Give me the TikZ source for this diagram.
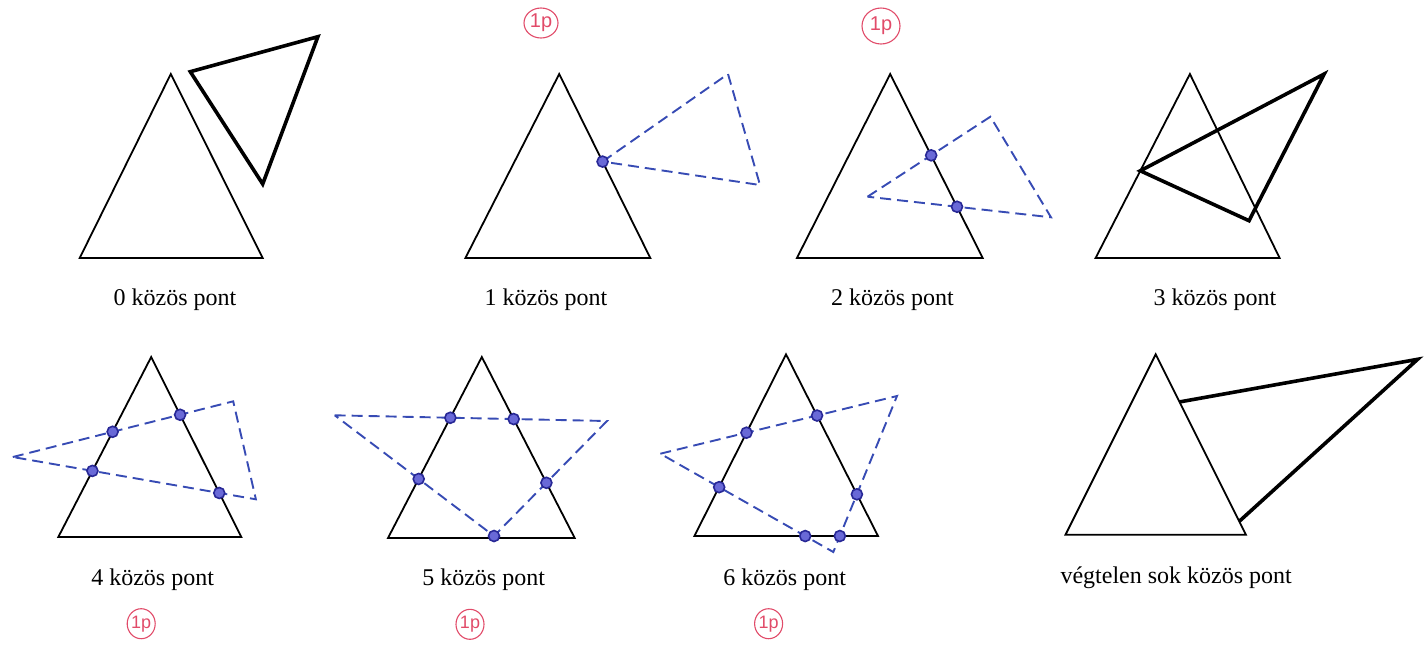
\documentclass[tikz,border=0pt]{standalone}
\usepackage{fontspec}
\setmainfont{Liberation Serif}
\setsansfont{Liberation Sans}
\usetikzlibrary{calc,shapes.geometric}
\definecolor{dashblue}{RGB}{55,75,180}
\definecolor{dotblue}{RGB}{105,105,215}
\definecolor{dotedge}{RGB}{40,40,150}
\definecolor{markred}{RGB}{225,75,105}
\begin{document}
\begin{tikzpicture}[x=0.5pt,y=-0.5pt,
  tri/.style={line width=0.9pt, line join=miter},
  thicktri/.style={line width=1.8pt, line join=miter},
  dtri/.style={draw=dashblue, line width=0.95pt, dash pattern=on 5.5pt off 3pt},
  pt/.style={circle, fill=dotblue, draw=dotedge, line width=0.8pt, inner sep=0pt, minimum size=5.5pt},
  lab/.style={font=\fontsize{12}{14}\selectfont, inner sep=0pt},
  redmark/.style={ellipse, draw=markred, text=markred, line width=0.55pt, inner sep=0pt,
    minimum width=14pt, minimum height=15pt, font=\sffamily\fontsize{9}{10}\selectfont}]
\useasboundingbox (0,0) rectangle (1428,644);

% ---------- panel 0 ----------
\coordinate (A0a) at (170.8,74);
\coordinate (A0b) at (79.7,258);
\coordinate (A0c) at (262.7,258);
\draw[tri] (A0a) -- (A0b) -- (A0c) -- cycle;
\coordinate (T0a) at (190.3,71.7);
\coordinate (T0b) at (317.9,36.7);
\coordinate (T0c) at (262.7,184);
\draw[thicktri] (T0a) -- (T0b) -- (T0c) -- cycle;
\node[lab] (L0) at (175,300) {0 közös pont};

% ---------- panel 1 ----------
\coordinate (A1a) at (559.2,74);
\coordinate (A1b) at (465.4,258);
\coordinate (A1c) at (650.3,258);
\draw[tri] (A1a) -- (A1b) -- (A1c) -- cycle;
\coordinate (D1a) at ($(A1a)!0.476!(A1c)$);
\coordinate (D1b) at (728,74);
\coordinate (D1c) at (760,185);
\draw[dtri] (D1a) -- (D1b) -- (D1c) -- cycle;
\node[pt] (P1a) at (D1a) {};
\node[lab] (L1) at (546,300) {1 közös pont};
\node[redmark, minimum width=17pt, minimum height=15pt, font=\sffamily\fontsize{10}{11}\selectfont] (M1) at (541,23) {\makebox[0pt]{1p}};

% ---------- panel 2 ----------
\coordinate (A2a) at (890.2,74);
\coordinate (A2b) at (796.9,258);
\coordinate (A2c) at (982.7,258);
\draw[tri] (A2a) -- (A2b) -- (A2c) -- cycle;
\coordinate (D2a) at (867.5,196.7);
\coordinate (D2b) at (990.4,116.7);
\coordinate (D2c) at (1051,217.3);
\draw[dtri] (D2a) -- (D2b) -- (D2c) -- cycle;
\node[pt] (P2a) at (intersection of A2a--A2c and D2a--D2b) {};
\node[pt] (P2b) at (intersection of A2a--A2c and D2a--D2c) {};
\node[lab] (L2) at (892.5,300) {2 közös pont};
\node[redmark, minimum width=19pt, minimum height=18pt, font=\sffamily\fontsize{10}{11}\selectfont] (M2) at (881,26) {\makebox[0pt]{1p}};

% ---------- panel 3 ----------
\coordinate (A3a) at (1189.9,74);
\coordinate (A3b) at (1095.6,258);
\coordinate (A3c) at (1279.6,258);
\draw[tri] (A3a) -- (A3b) -- (A3c) -- cycle;
\coordinate (T3a) at ($(A3b)!0.474!(A3a)$);
\coordinate (T3b) at (1324.2,74);
\coordinate (T3c) at (1249,220.7);
\draw[thicktri] (T3a) -- (T3b) -- (T3c) -- cycle;
\node[lab] (L3) at (1215,300) {3 közös pont};

% ---------- panel 4 ----------
\coordinate (A4a) at (151.2,357);
\coordinate (A4b) at (58.3,537);
\coordinate (A4c) at (241.3,537);
\draw[tri] (A4a) -- (A4b) -- (A4c) -- cycle;
\coordinate (D4a) at (12.8,457);
\coordinate (D4b) at (233.2,401.3);
\coordinate (D4c) at (255.9,499.3);
\draw[dtri] (D4a) -- (D4b) -- (D4c) -- cycle;
\node[pt] (P4a) at (intersection of A4a--A4b and D4a--D4b) {};
\node[pt] (P4b) at (intersection of A4a--A4c and D4a--D4b) {};
\node[pt] (P4c) at (intersection of A4a--A4b and D4a--D4c) {};
\node[pt] (P4d) at (intersection of A4a--A4c and D4a--D4c) {};
\node[lab] (L4) at (152.6,579.7) {4 közös pont};
\node[redmark] (M4) at (141.2,623.7) {\makebox[0pt]{1p}};

% ---------- panel 5 ----------
\coordinate (A5a) at (481.8,357);
\coordinate (A5b) at (388,538);
\coordinate (A5c) at (574.7,538);
\draw[tri] (A5a) -- (A5b) -- (A5c) -- cycle;
\coordinate (D5a) at (334.7,415.3);
\coordinate (D5b) at (607,421);
\coordinate (D5c) at (494,536);
\draw[dtri] (D5a) -- (D5b) -- (D5c) -- cycle;
\node[pt] (P5a) at (intersection of A5a--A5b and D5a--D5b) {};
\node[pt] (P5b) at (intersection of A5a--A5c and D5a--D5b) {};
\node[pt] (P5c) at (intersection of A5a--A5b and D5a--D5c) {};
\node[pt] (P5d) at (intersection of A5a--A5c and D5b--D5c) {};
\node[pt] (P5e) at (D5c) {};
\node[lab] (L5) at (483.6,580) {5 közös pont};
\node[redmark] (M5) at (470,624.3) {\makebox[0pt]{1p}};

% ---------- panel 6 ----------
\coordinate (A6a) at (786,354.3);
\coordinate (A6b) at (694.4,536);
\coordinate (A6c) at (878,536);
\draw[tri] (A6a) -- (A6b) -- (A6c) -- cycle;
\coordinate (D6a) at (660.3,453.7);
\coordinate (D6b) at (897,396);
\coordinate (D6c) at (833.3,552);
\draw[dtri] (D6a) -- (D6b) -- (D6c) -- cycle;
\node[pt] (P6a) at (intersection of A6a--A6b and D6a--D6b) {};
\node[pt] (P6b) at (intersection of A6a--A6c and D6a--D6b) {};
\node[pt] (P6c) at (intersection of A6a--A6b and D6a--D6c) {};
\node[pt] (P6d) at (intersection of A6b--A6c and D6a--D6c) {};
\node[pt] (P6e) at (intersection of A6b--A6c and D6b--D6c) {};
\node[pt] (P6f) at (intersection of A6a--A6c and D6b--D6c) {};
\node[lab] (L6) at (784.6,579.3) {6 közös pont};
\node[redmark] (M6) at (768.6,623.7) {\makebox[0pt]{1p}};

% ---------- panel 7 ----------
\coordinate (A7a) at (1155.7,354.3);
\coordinate (A7b) at (1065.5,534.7);
\coordinate (A7c) at (1245.9,534.7);
\draw[tri] (A7a) -- (A7b) -- (A7c) -- cycle;
\coordinate (T7a) at ($(A7a)!0.264!(A7c)$);
\coordinate (T7b) at (1417.6,359.3);
\coordinate (T7c) at ($(A7a)!0.926!(A7c)$);
\draw[thicktri] (T7a) -- (T7b) -- (T7c);
\node[lab] (L7) at (1176.2,578) {végtelen sok közös pont};
\end{tikzpicture}
\end{document}
